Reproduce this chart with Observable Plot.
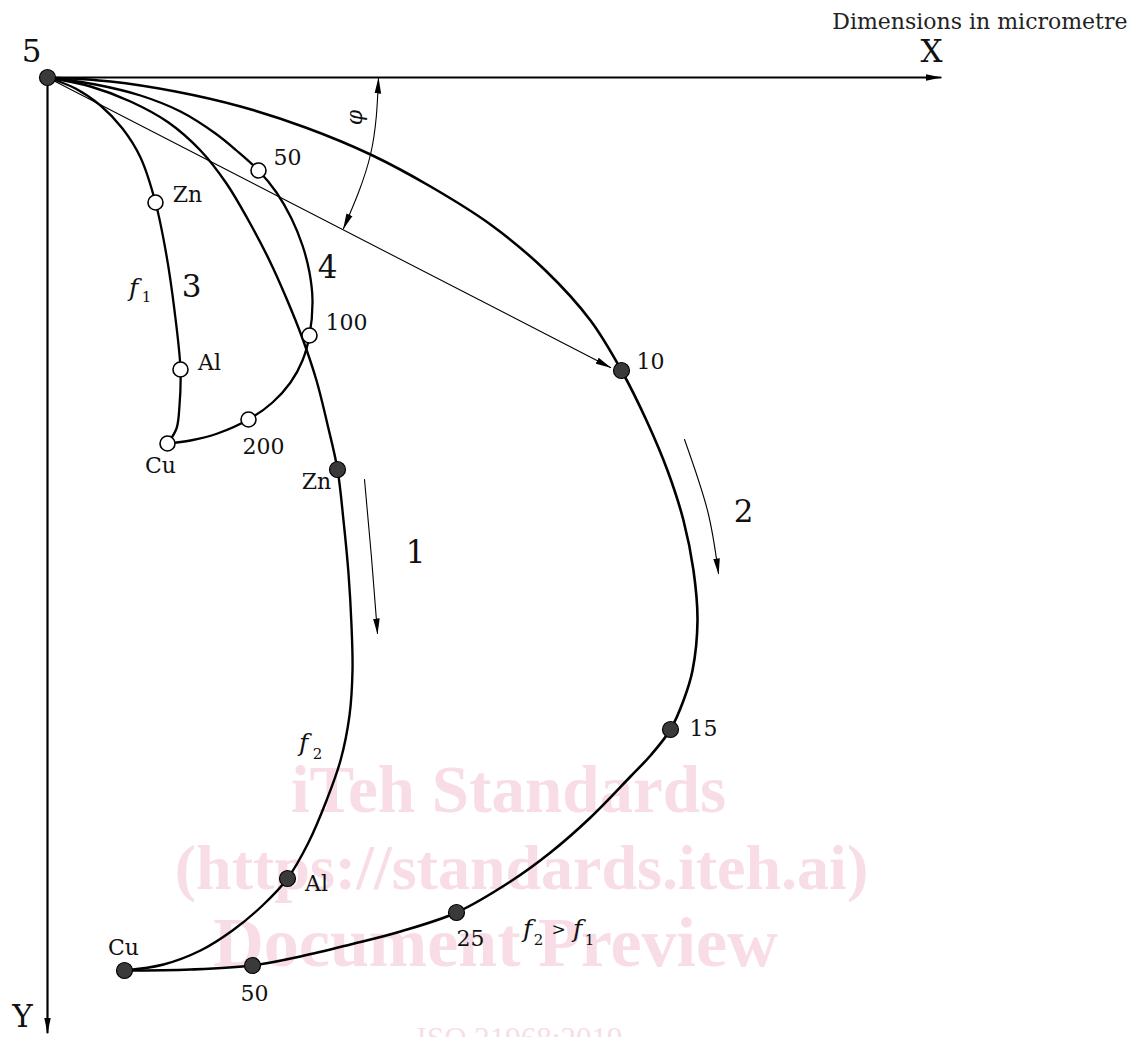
<!DOCTYPE html>
<html><head><meta charset="utf-8">
<script src="https://cdn.jsdelivr.net/npm/d3@7"></script>
<script src="https://cdn.jsdelivr.net/npm/@observablehq/plot@0.6"></script>
<style>body{margin:0;background:#fff} #chart svg{display:block}</style>
</head><body><div id="chart"></div>
<script>
// Coordinates in drawing units, origin at point 5, X to the right, Y downward
const curve1 = [[0,0],[43,9],[83,24],[121,45],[153,73],[179,106],[201,143],[221,181],[239,221],[255,261],[269,303],[280,347],[290,392],[296,443],[301,496],[304,548],[305,593],[302,638],[293,683],[279,723],[261,765],[240,801],[215,828],[185,853],[153,873],[116,887],[77,893]];
const curve2 = [[0,0],[63,4],[128,14],[193,29],[258,50],[323,77],[383,109],[443,147],[498,193],[543,243],[574,293],[599,343],[620,393],[636,443],[646,493],[650,543],[645,593],[636,623],[623,652],[603,678],[583,699],[543,740],[503,775],[463,804],[409,835],[353,854],[303,867],[253,879],[205,888],[143,892],[77,893]];
const curve3 = [[0,0],[28,11],[53,28],[75,51],[93,80],[108,125],[119,178],[127,233],[133,292],[132,328],[129,351],[120,366]];
const curve4 = [[0,0],[48,7],[93,18],[133,34],[168,56],[189,73],[211,93],[229,115],[244,141],[255,168],[262,195],[265,223],[262,258],[255,283],[243,305],[225,325],[201,342],[170,356],[143,363],[120,366]];

const filledPoints = [[0,0],[290,392],[240,801],[77,893],[574,293],[623,652],[409,835],[205,888]];
const openPoints = [[108,125],[133,292],[120,366],[211,93],[262,258],[201,342]];

const pointLabels = ["Zn","Al","Cu","10","15","25","50","Zn","Al","Cu","50","100","200"];
const pointLabelX = [269,269,76,603,656,423,207,140,162,113,240,299,216];
const pointLabelY = [404,806,870,284,651,861,916,117,285,388,80,245,369];

const bigLabels = ["5","X","Y","1","2","3","4"];
const bigLabelX = [-16,884,-25,368,696,144,280];
const bigLabelY = [-25,-25,940,476,435,210,191];

const italicF = [[86,210],[256,665],[480,851],[530,851]];
const subscripts = ["1","2","2","1"];
const subscriptPos = [[99,220],[270,677],[491,863],[542,863]];
const gtSign = [[511,852]];

const xAxisLine = [[0,0],[893,0]];
const yAxisLine = [[0,0],[0,955]];
const phiLine = [[0,0],[563,290]];
const phiArc = [[331,1],[323,77],[296,151]];
const arrow1 = [[317,402],[324,480],[330,556]];
const arrow2 = [[637,362],[660,433],[671,496]];
const phiLabel = [[307,40]];

const watermark1 = [["iTeh Standards",461,713]];
const watermark2 = [["(https://standards.iteh.ai)",474,791]];
const watermark3 = [["Document Preview",448,866]];
const isoLabel = [["ISO 21968:2019",472,962]];

const title = "Dimensions in micrometre";

function head(orient){
  return (color) => {
    const m = d3.create("svg:marker")
      .attr("viewBox","0 -4 16 8").attr("markerWidth",16).attr("markerHeight",8)
      .attr("refX",15).attr("refY",0).attr("orient",orient)
      .attr("markerUnits","userSpaceOnUse");
    m.append("path").attr("d","M0,-3.3L16,0L0,3.3Z").attr("fill",color).attr("stroke","none");
    return m.node();
  };
}
const headEnd = head("auto");
const headStart = head("auto-start-reverse");

const px = d => d[0], py = d => d[1];
const tx = d => d[1], ty = d => d[2], tt = d => d[0];
const pl = pointLabels.map((t,i)=>({t, x:pointLabelX[i], y:pointLabelY[i]}));
const bl = bigLabels.map((t,i)=>({t, x:bigLabelX[i], y:bigLabelY[i]}));
const sb = subscripts.map((t,i)=>({t, x:subscriptPos[i][0], y:subscriptPos[i][1]}));
const wmStyle = {x:tx, y:ty, text:tt, fontWeight:"bold", fontFamily:"'Liberation Serif', serif", fill:"#f8dde6"};

const plot = Plot.plot({
  width:1136, height:1037, margin:0,
  x:{domain:[-47,1089], axis:null},
  y:{domain:[-77,960], range:[0,1037], axis:null},
  style:{fontFamily:"'DejaVu Serif', serif", background:"#fff", color:"#000"},
  marks:[
    Plot.text(watermark1, {...wmStyle, fontSize:67}),
    Plot.text(watermark2, {...wmStyle, fontSize:64}),
    Plot.text(watermark3, {...wmStyle, fontSize:70}),
    Plot.text(isoLabel, {x:tx, y:ty, text:tt, fontSize:31, fontFamily:"'Liberation Serif', serif", fill:"#f8dde6"}),
    Plot.line(xAxisLine, {x:px, y:py, stroke:"#000", strokeWidth:2.2, markerEnd:headEnd}),
    Plot.line(yAxisLine, {x:px, y:py, stroke:"#000", strokeWidth:2.2, markerEnd:headEnd}),
    Plot.line(phiLine, {x:px, y:py, stroke:"#000", strokeWidth:1.1, markerEnd:headEnd}),
    Plot.line(phiArc, {x:px, y:py, stroke:"#000", strokeWidth:1.1, curve:"natural", markerStart:headStart, markerEnd:headEnd}),
    Plot.line(arrow1, {x:px, y:py, stroke:"#000", strokeWidth:1.1, curve:"natural", markerEnd:headEnd}),
    Plot.line(arrow2, {x:px, y:py, stroke:"#000", strokeWidth:1.1, curve:"natural", markerEnd:headEnd}),
    Plot.line(curve3, {x:px, y:py, stroke:"#000", strokeWidth:2.3, curve:"catmull-rom"}),
    Plot.line(curve4, {x:px, y:py, stroke:"#000", strokeWidth:2.3, curve:"catmull-rom"}),
    Plot.line(curve1, {x:px, y:py, stroke:"#000", strokeWidth:2.4, curve:"catmull-rom"}),
    Plot.line(curve2, {x:px, y:py, stroke:"#000", strokeWidth:2.6, curve:"catmull-rom"}),
    Plot.dot(openPoints, {x:px, y:py, r:7.5, fill:"#fff", stroke:"#000", strokeWidth:1.6}),
    Plot.dot(filledPoints, {x:px, y:py, r:8, fill:"#3a3a3a", stroke:"#000", strokeWidth:1.2}),
    Plot.text(pl, {x:"x", y:"y", text:"t", fontSize:22, fill:"#111"}),
    Plot.text(bl, {x:"x", y:"y", text:"t", fontSize:31, fill:"#111"}),
    Plot.text(italicF, {x:px, y:py, text:()=>"f", fontSize:25, fontStyle:"italic", fill:"#111"}),
    Plot.text(sb, {x:"x", y:"y", text:"t", fontSize:15, fill:"#111"}),
    Plot.text(gtSign, {x:px, y:py, text:()=>">", fontSize:17, fill:"#111"}),
    Plot.text(phiLabel, {x:px, y:py, text:()=>"φ", fontSize:22, fontStyle:"italic", rotate:-90, fill:"#111"}),
    Plot.text([title], {x:()=>1080, y:()=>-56, text:d=>d, textAnchor:"end", fontSize:22, fill:"#222"})
  ]
});
document.getElementById("chart").appendChild(plot);
</script>
</body></html>
